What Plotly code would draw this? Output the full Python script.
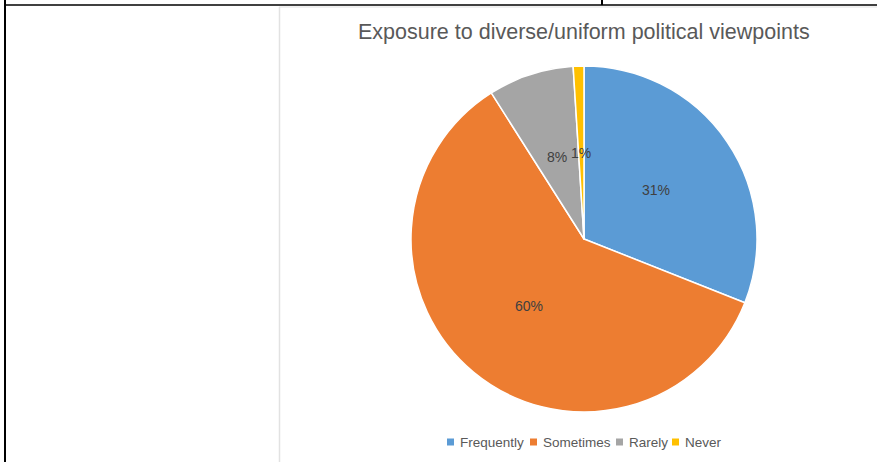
import math
import plotly.graph_objects as go

# Survey shares
categories = ["Frequently", "Sometimes", "Rarely", "Never"]
shares = [31, 60, 8, 1]
colors = ["#5B9BD5", "#ED7D31", "#A5A5A5", "#FFC000"]
title_text = "Exposure to diverse/uniform political viewpoints"

W, H = 877, 462
cx, cy, R = 584, 239, 173  # pie centre / radius in pixels


def px(x):
    return x / W


def py(y):
    return (H - y) / H


fig = go.Figure(
    go.Pie(
        labels=categories,
        values=shares,
        sort=False,
        direction="clockwise",
        rotation=0,
        marker=dict(colors=colors, line=dict(color="white", width=1.5)),
        textinfo="none",
        hoverinfo="label+percent",
        domain=dict(x=[px(cx - R), px(cx + R)], y=[py(cy + R), py(cy - R)]),
        showlegend=False,
    )
)

annotations = []
shapes = []

# Percentage labels at half radius along each slice's mid-angle
total = sum(shares)
cum = 0
for v in shares:
    mid = (cum + v / 2) / total * 2 * math.pi
    cum += v
    lx = cx + 0.5 * R * math.sin(mid)
    ly = cy - 0.5 * R * math.cos(mid)
    annotations.append(dict(
        x=px(lx), y=py(ly), xref="paper", yref="paper",
        text=f"{round(v / total * 100)}%", showarrow=False,
        font=dict(family="Liberation Sans, Arial", size=14, color="#404040"),
        xanchor="center", yanchor="middle",
    ))

# Title
annotations.append(dict(
    x=px(cx), y=py(32), xref="paper", yref="paper", text=title_text,
    showarrow=False, xanchor="center", yanchor="middle",
    font=dict(family="Liberation Sans, Arial", size=21.5, color="#595959"),
))

# Legend row: small colour squares followed by names
legend_x = [447, 530, 616, 672]
legend_y = 442
for name, col, lx in zip(categories, colors, legend_x):
    shapes.append(dict(
        type="rect", xref="paper", yref="paper",
        x0=px(lx), x1=px(lx + 7), y0=py(legend_y + 3.5), y1=py(legend_y - 3.5),
        fillcolor=col, line=dict(width=0),
    ))
    annotations.append(dict(
        x=px(lx + 11), y=py(legend_y), xref="paper", yref="paper", text=name,
        showarrow=False, xanchor="left", yanchor="middle",
        font=dict(family="Liberation Sans, Arial", size=13.5, color="#595959"),
    ))

# Surrounding page frame
frame = [
    dict(x0=5, y0=0, x1=5, y1=H, color="black", width=2),
    dict(x0=5, y0=5, x1=W, y1=5, color="black", width=1.5),
    dict(x0=602, y0=0, x1=602, y1=5, color="black", width=2),
    dict(x0=279, y0=7, x1=W, y1=7, color="#ebebeb", width=1.5),
    dict(x0=279.5, y0=7, x1=279.5, y1=H, color="#e2e2e2", width=1.5),
]
for f in frame:
    shapes.append(dict(
        type="line", xref="paper", yref="paper",
        x0=px(f["x0"]), x1=px(f["x1"]), y0=py(f["y0"]), y1=py(f["y1"]),
        line=dict(color=f["color"], width=f["width"]),
    ))

fig.update_layout(
    width=W, height=H,
    margin=dict(l=0, r=0, t=0, b=0),
    paper_bgcolor="white", plot_bgcolor="white",
    annotations=annotations, shapes=shapes,
)

fig.write_html("out.html")
